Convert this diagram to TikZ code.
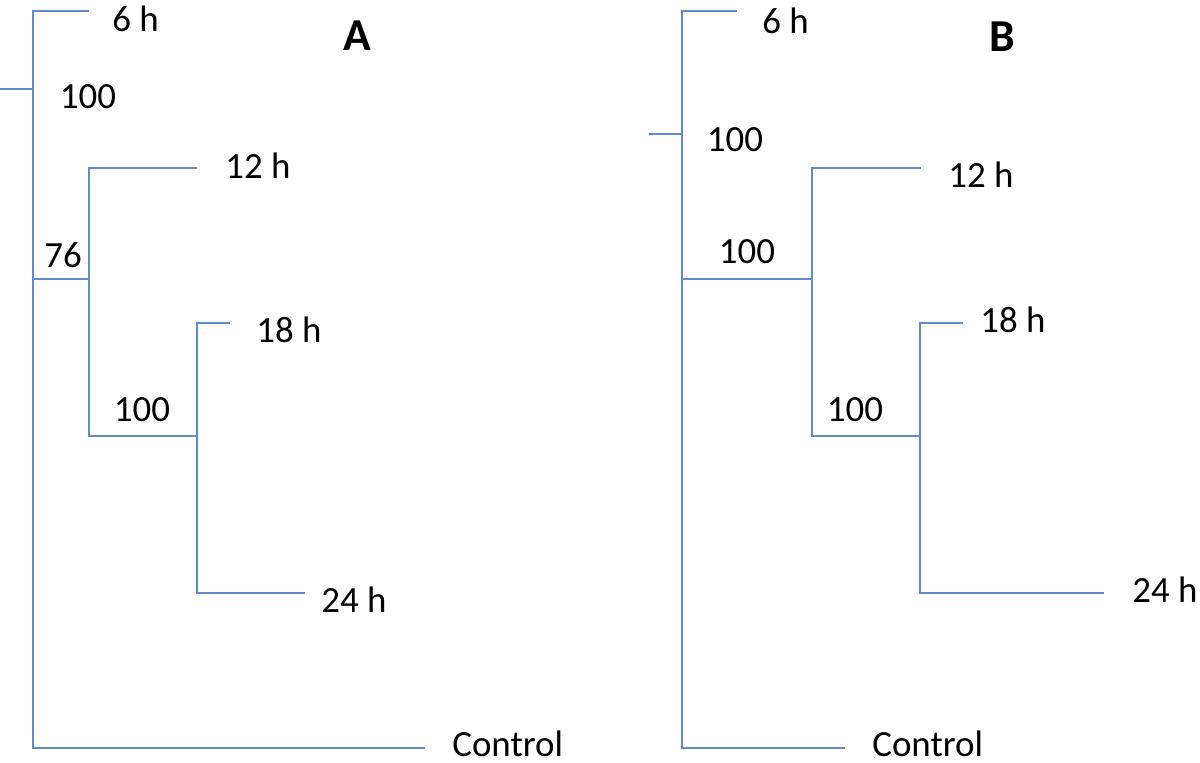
\documentclass[tikz,border=0pt]{standalone}
\usepackage{fontspec}
\setmainfont{Carlito}
\usetikzlibrary{positioning}
\definecolor{treeblue}{RGB}{96,140,204}
\tikzset{
  branch/.style={draw=treeblue, line width=0.85pt},
  leaf/.style={anchor=west, inner sep=0pt, font=\fontsize{21}{24}\selectfont},
  support/.style={inner sep=0pt, font=\fontsize{21}{24}\selectfont},
  panel/.style={inner sep=0pt, font=\fontsize{26}{30}\selectfont\bfseries},
}

\begin{document}
\begin{tikzpicture}[x=0.02cm, y=-0.02cm]
  \useasboundingbox (0,0) rectangle (1200,762);

  % tree A
  \coordinate (aStub) at (0,89);
  \coordinate (aRoot) at (33,89);
  \coordinate (aMid) at (89,279);
  \coordinate (aLow) at (197,436);
  \coordinate (a6) at (89,11);
  \coordinate (a12) at (197,168);
  \coordinate (a18) at (230,323);
  \coordinate (a24) at (305,593);
  \coordinate (aCtl) at (425,748);

  \draw[branch] (aStub) -- (aRoot);
  \draw[branch] (aRoot) |- (a6);
  \draw[branch] (aRoot) |- (aMid);
  \draw[branch] (aRoot) |- (aCtl);
  \draw[branch] (aMid) |- (a12);
  \draw[branch] (aMid) |- (aLow);
  \draw[branch] (aLow) |- (a18);
  \draw[branch] (aLow) |- (a24);

  \node[leaf] (a6h) at (112,19) {6 h};
  \node[leaf] (a12h) at (225,166) {12 h};
  \node[leaf] (a18h) at (256,330) {18 h};
  \node[leaf] (a24h) at (321,600) {24 h};
  \node[leaf] (aCtlh) at (452,744) {Control};
  \node[support] (aRootB) at (88,97) {100};
  \node[support] (aMidB) at (63,255) {76};
  \node[support] (aLowB) at (142,410) {100};
  \node[panel] (pA) at (357,36) {A};

  % tree B
  \coordinate (bStub) at (649,134);
  \coordinate (bRoot) at (682,134);
  \coordinate (bMid) at (812,279);
  \coordinate (bLow) at (920,436);
  \coordinate (b6) at (737,11);
  \coordinate (b12) at (921,168);
  \coordinate (b18) at (963,323);
  \coordinate (b24) at (1104,593);
  \coordinate (bCtl) at (845,748);

  \draw[branch] (bStub) -- (bRoot);
  \draw[branch] (bRoot) |- (b6);
  \draw[branch] (bRoot) |- (bMid);
  \draw[branch] (bRoot) |- (bCtl);
  \draw[branch] (bMid) |- (b12);
  \draw[branch] (bMid) |- (bLow);
  \draw[branch] (bLow) |- (b18);
  \draw[branch] (bLow) |- (b24);

  \node[leaf] (b6h) at (762,21) {6 h};
  \node[leaf] (b12h) at (948,175) {12 h};
  \node[leaf] (b18h) at (980,320) {18 h};
  \node[leaf] (b24h) at (1132,590) {24 h};
  \node[leaf] (bCtlh) at (872,744) {Control};
  \node[support] (bRootB) at (735,140) {100};
  \node[support] (bMidB) at (747,252) {100};
  \node[support] (bLowB) at (855,410) {100};
  \node[panel] (pB) at (1002,37) {B};
\end{tikzpicture}
\end{document}
